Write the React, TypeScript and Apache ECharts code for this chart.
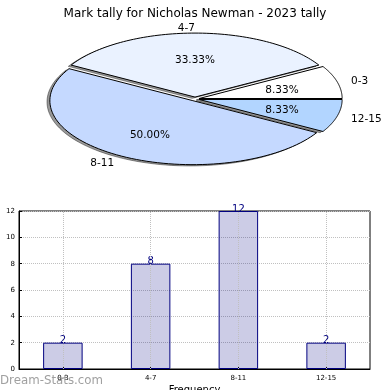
import React, { useEffect, useRef } from "react";
import * as echarts from "echarts";

const categories = ["0-3", "4-7", "8-11", "12-15"];
const counts = [2, 8, 12, 2];
const pieColors = ["#ffffff", "#eaf2ff", "#c5d9ff", "#b2d5ff"];
const yTicks = { min: 0, max: 12, interval: 2 };
const titleText = "Mark tally for Nicholas Newman - 2023 tally";
const xName = "Frequency";
const yName = "Total Mark Tally";
const watermark = "Dream-Stats.com";

const FONT = "DejaVu Sans";

export default function App() {
  const ref = useRef<HTMLDivElement>(null);
  useEffect(() => {
    if (!ref.current) return;
    const chart = echarts.init(ref.current, undefined, { renderer: "svg" });
    const total = counts.reduce((a, b) => a + b, 0);
    const cx = 195, cy = 99, rx = 143, ry = 64, explode = 0.03;

    const renderItem = (params: any, api: any) => {
      const i = params.dataIndex;
      const v = api.value(0);
      let cum = 0;
      for (let k = 0; k < i; k++) cum += counts[k];
      const a1 = (cum / total) * Math.PI * 2;
      const a2 = ((cum + v) / total) * Math.PI * 2;
      const mid = (a1 + a2) / 2;
      const ox = cx + explode * rx * Math.cos(mid);
      const oy = cy - explode * ry * Math.sin(mid);
      const n = 80;
      const pts: number[][] = [[ox, oy]];
      for (let s = 0; s <= n; s++) {
        const a = a1 + ((a2 - a1) * s) / n;
        pts.push([ox + rx * Math.cos(a), oy - ry * Math.sin(a)]);
      }
      const sdx = -0.02 * rx, sdy = 0.02 * ry;
      const shadowPts = pts.map((p) => [p[0] + sdx, p[1] + sdy]);
      const cosm = Math.cos(mid), sinm = Math.sin(mid);
      const lx = ox + 1.1 * rx * cosm;
      const ly = oy - 1.1 * ry * sinm;
      const px = ox + 0.6 * rx * cosm;
      const py = oy - 0.6 * ry * sinm;
      return {
        type: "group",
        children: [
          {
            type: "polygon",
            z2: 0,
            shape: { points: shadowPts },
            style: { fill: "rgba(0,0,0,0.4)", stroke: "rgba(0,0,0,0.4)", lineWidth: 1 },
          },
          {
            type: "polygon",
            z2: 10,
            shape: { points: pts },
            style: { fill: pieColors[i], stroke: "#000", lineWidth: 1 },
          },
          {
            type: "text",
            z2: 20,
            style: {
              text: categories[i],
              x: lx,
              y: ly,
              align: cosm > 1e-9 ? "left" : "right",
              verticalAlign: "middle",
              fontSize: 10.5,
              fontFamily: FONT,
              fill: "#000",
            },
          },
          {
            type: "text",
            z2: 20,
            style: {
              text: ((v / total) * 100).toFixed(2) + "%",
              x: px,
              y: py,
              align: "center",
              verticalAlign: "middle",
              fontSize: 10.5,
              fontFamily: FONT,
              fill: "#000",
            },
          },
        ],
      };
    };

    const option: any = {
      animation: false,
      textStyle: { fontFamily: FONT },
      title: {
        text: titleText,
        left: "center",
        top: 2,
        textStyle: { fontSize: 12, fontWeight: "normal", color: "#000", fontFamily: FONT },
      },
      grid: {
        left: 19,
        right: 20,
        top: 211,
        bottom: 21,
        containLabel: false,
        outerBoundsMode: "none",
        show: true,
        borderColor: "#000",
        borderWidth: 1,
        backgroundColor: "transparent",
      },
      xAxis: {
        type: "category",
        data: categories,
        name: xName,
        nameLocation: "middle",
        nameGap: 15,
        nameTextStyle: { fontSize: 10, color: "#000", fontFamily: FONT },
        axisLine: { show: true, lineStyle: { color: "#000" } },
        axisTick: { show: true, inside: true, alignWithLabel: true, length: 3, lineStyle: { color: "#000" } },
        axisLabel: { fontSize: 7, color: "#000", margin: 5, fontFamily: FONT },
        splitLine: { show: false },
      },
      yAxis: {
        type: "value",
        min: yTicks.min,
        max: yTicks.max,
        interval: yTicks.interval,
        name: yName,
        nameLocation: "middle",
        nameGap: 16,
        nameRotate: 90,
        nameTextStyle: { fontSize: 10, color: "#000", fontFamily: FONT },
        axisLine: { show: true, lineStyle: { color: "#000" } },
        axisTick: { show: true, inside: true, length: 3, lineStyle: { color: "#000" } },
        axisLabel: { fontSize: 7, color: "#000", margin: 4, fontFamily: FONT },
        splitLine: { show: true, lineStyle: { color: "#c0c0c0", type: "dotted", width: 1 } },
      },
      graphic: [
        {
          type: "text",
          left: 0,
          top: 374,
          z: 100,
          style: {
            text: watermark,
            fontSize: 11.8,
            fontFamily: FONT,
            fill: "rgba(128,128,128,0.75)",
          },
        },
      ],
      series: [
        {
          type: "bar",
          data: counts,
          barWidth: "45%",
          itemStyle: { color: "rgba(0,0,128,0.2)", borderColor: "#000080", borderWidth: 1 },
          label: {
            show: true,
            position: "top",
            distance: -2,
            color: "#000080",
            fontSize: 10,
            fontFamily: FONT,
          },
          markLine: {
            silent: true,
            symbol: ["none", "none"],
            label: { show: false },
            lineStyle: { color: "#c0c0c0", type: "dotted", width: 1 },
            data: categories.map((c) => ({ xAxis: c })),
          },
        },
        {
          type: "custom",
          coordinateSystem: "none",
          renderItem,
          data: counts,
        },
      ],
    };
    chart.setOption(option);
    return () => chart.dispose();
  }, []);
  return (
    <div
      ref={ref}
      style={{ position: "fixed", left: 0, top: 0, width: 390, height: 390 }}
    />
  );
}
